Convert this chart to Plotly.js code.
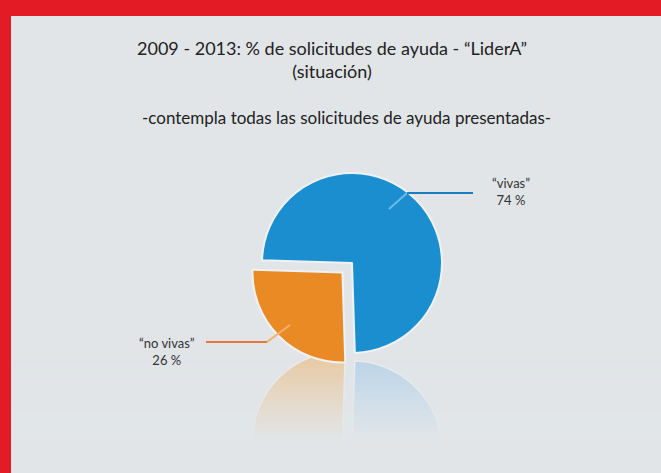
<!DOCTYPE html>
<html><head><meta charset="utf-8">
<script src="https://cdn.plot.ly/plotly-3.0.1.min.js"></script>
<style>html,body{margin:0;padding:0;background:#e21b24;} #chart{width:661px;height:473px;}</style>
</head><body><div id="chart"></div>
<script>
// ---- data ----
const categories = ['“vivas”', '“no vivas”'];
const percentages = [74, 26];
const labelTexts = ['“vivas”<br>74 %', '“no vivas”<br>26 %'];
const pullOut = [0, 0.15];

// ---- styles ----
const sliceColors = ['#1b8ecf', '#ea8a25'];
const reflectColors = ['rgba(120,182,228,0.42)', 'rgba(246,168,74,0.5)'];
const BG = '#e1e5e8';
const W = 661, H = 473;
const cx = 352, cy = 263, R = 90;       // pie centre/radius in px
const mirrorY = 357;                      // reflection axis in px
const maxPull = Math.max(...pullOut);
const box = 2 * R * (1 + maxPull);

const total = percentages.reduce((a, b) => a + b, 0);
const orangeMid = 225; // compass direction of second slice's centre
let rot = orangeMid + percentages[1] / total * 180;
rot = ((rot + 180) % 360 + 360) % 360 - 180;

const px = x => x / W, py = y => 1 - y / H;

// reflection paths (computed from the data)
const shapes = [{type:'rect', xref:'paper', yref:'paper', x0:px(11), x1:1, y0:0, y1:py(16),
  fillcolor:BG, line:{width:0}, layer:'below'}];
let start = rot;
percentages.forEach((v, i) => {
  const span = v / total * 360;
  const mid = (start + span / 2) * Math.PI / 180;
  const ox = cx + pullOut[i] * R * Math.sin(mid);
  const oy = cy - pullOut[i] * R * Math.cos(mid);
  const pts = [[ox, oy]];
  const n = Math.ceil(span / 2);
  for (let k = 0; k <= n; k++) {
    const a = (start + span * k / n) * Math.PI / 180;
    pts.push([ox + R * Math.sin(a), oy - R * Math.cos(a)]);
  }
  const path = pts.map((p, j) => (j ? 'L' : 'M') + px(p[0]).toFixed(5) + ',' + py(2 * mirrorY - p[1]).toFixed(5)).join(' ') + ' Z';
  shapes.push({type:'path', xref:'paper', yref:'paper', path, fillcolor:reflectColors[i],
    line:{color:'rgba(235,238,240,0.9)', width:1.5}, layer:'below'});
  start += span;
});
// fade bands over the reflection
const bandTop = 352, bandBot = 440, nb = 22;
for (let b = 0; b < nb; b++) {
  const y0 = bandTop + (bandBot - bandTop) * b / nb;
  const y1 = bandTop + (bandBot - bandTop) * (b + 1) / nb;
  const t = (b + 0.5) / nb;
  shapes.push({type:'rect', xref:'paper', yref:'paper', x0:px(11), x1:1, y0:py(y1), y1:py(y0),
    fillcolor:BG, opacity:Math.min(1, 0.05 + 0.95 * Math.pow(t, 0.9)), line:{width:0}, layer:'below'});
}
shapes.push({type:'rect', xref:'paper', yref:'paper', x0:px(11), x1:1, y0:0, y1:py(bandBot),
  fillcolor:BG, line:{width:0}, layer:'below'});
// leader lines
shapes.push({type:'line', xref:'paper', yref:'paper', x0:px(389), y0:py(209), x1:px(407), y1:py(193),
  line:{color:'#6cbbe8', width:2}, layer:'above'});
shapes.push({type:'line', xref:'paper', yref:'paper', x0:px(407), y0:py(193), x1:px(473), y1:py(193),
  line:{color:'#1b7cc0', width:2.2}, layer:'above'});
shapes.push({type:'line', xref:'paper', yref:'paper', x0:px(267), y0:py(342), x1:px(290), y1:py(325),
  line:{color:'#f5b066', width:2}, layer:'above'});
shapes.push({type:'line', xref:'paper', yref:'paper', x0:px(206), y0:py(342), x1:px(267), y1:py(342),
  line:{color:'#e6773d', width:2.2}, layer:'above'});

const data = [{
  type: 'pie',
  labels: categories,
  values: percentages,
  sort: false,
  direction: 'clockwise',
  rotation: rot,
  pull: pullOut,
  textinfo: 'none',
  hoverinfo: 'label+percent',
  marker: {colors: sliceColors, line: {color: '#eef2f5', width: 2}},
  domain: {x: [px(cx - box / 2), px(cx + box / 2)], y: [py(cy + box / 2), py(cy - box / 2)]},
  showlegend: false
}];

const font = 'Lato, "Open Sans", sans-serif';
const layout = {
  width: W, height: H,
  margin: {l:0, r:0, t:0, b:0},
  paper_bgcolor: '#e21b24',
  font: {family: font, color: '#2a2a2a'},
  title: {text: '2009 - 2013: % de solicitudes de ayuda - “LiderA”<br>(situación)',
    x: px(332), xanchor: 'center', y: py(55), yanchor: 'top', yref: 'container',
    font: {family: font, size: 18, color: '#222'}},
  shapes,
  annotations: [
    {text: '-contempla todas las solicitudes de ayuda presentadas-', x: px(346), y: py(117),
     xref:'paper', yref:'paper', showarrow:false, xanchor:'center', yanchor:'middle',
     font:{family: font, size: 17, color:'#222'}},
    {text: labelTexts[0], x: px(511), y: py(191), xref:'paper', yref:'paper', showarrow:false,
     xanchor:'center', yanchor:'middle', align:'center', font:{family: font, size: 13, color:'#333'}},
    {text: labelTexts[1], x: px(167), y: py(351), xref:'paper', yref:'paper', showarrow:false,
     xanchor:'center', yanchor:'middle', align:'center', font:{family: font, size: 13, color:'#333'}}
  ]
};
Plotly.newPlot('chart', data, layout, {displayModeBar: false, staticPlot: true});
</script></body></html>
